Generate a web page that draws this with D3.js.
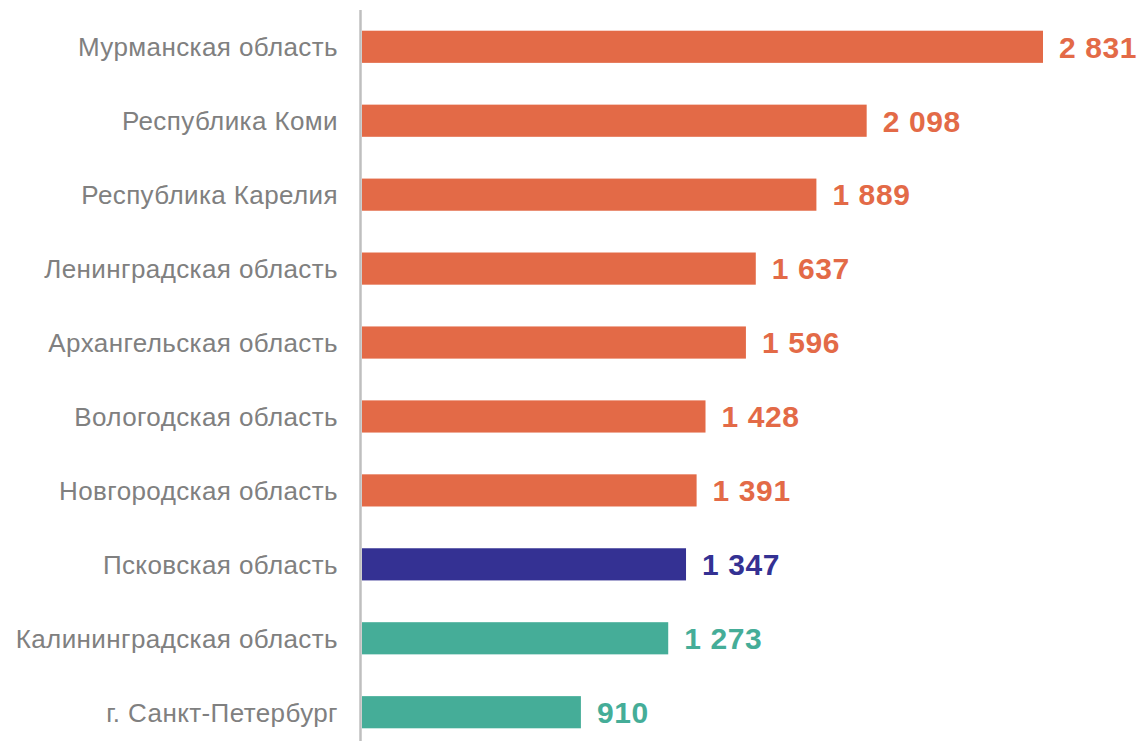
<!DOCTYPE html>
<meta charset="utf-8">
<style>
  body { margin: 0; background: #fff; }
  text { font-family: "Liberation Sans", Arial, sans-serif; }
</style>
<body>
<script src="https://cdn.jsdelivr.net/npm/d3@7"></script>
<script>
  var width = 1143;
  var height = 741;

  var regions = ["Мурманская область", "Республика Коми", "Республика Карелия",
    "Ленинградская область", "Архангельская область", "Вологодская область",
    "Новгородская область", "Псковская область", "Калининградская область",
    "г. Санкт-Петербург"];
  var values = [2831, 2098, 1889, 1637, 1596, 1428, 1391, 1347, 1273, 910];
  // group: 0 = above, 1 = Pskov, 2 = below
  var groups = [0, 0, 0, 0, 0, 0, 0, 1, 2, 2];
  var groupColors = ["#e36a47", "#343193", "#45ad98"];

  var svg = d3.select("body")
    .append("svg")
    .attr("width", width)
    .attr("height", height);

  var x = d3.scaleLinear()
    .domain([0, 2831])
    .range([362, 1043]);

  var y = d3.scaleBand()
    .domain(regions)
    .range([10, 749])
    .paddingInner(0.565)
    .paddingOuter(0.28);

  var fmt = function(v) { return d3.format(",")(v).replace(/,/g, " "); };

  var rows = regions.map(function(r, i) {
    return { name: r, value: values[i], color: groupColors[groups[i]] };
  });

  svg.selectAll("rect.bar")
    .data(rows)
    .enter()
    .append("rect")
    .attr("class", "bar")
    .attr("x", x(0))
    .attr("y", function(d) { return y(d.name); })
    .attr("width", function(d) { return x(d.value) - x(0); })
    .attr("height", y.bandwidth())
    .style("fill", function(d) { return d.color; });

  svg.selectAll("text.val")
    .data(rows)
    .enter()
    .append("text")
    .attr("class", "val")
    .attr("x", function(d) { return x(d.value) + 16; })
    .attr("y", function(d) { return y(d.name) + y.bandwidth() / 2; })
    .attr("dy", "0.36em")
    .style("font-size", "30px")
    .style("letter-spacing", "0.6px")
    .style("font-weight", "bold")
    .style("fill", function(d) { return d.color; })
    .text(function(d) { return fmt(d.value); });

  svg.selectAll("text.cat")
    .data(rows)
    .enter()
    .append("text")
    .attr("class", "cat")
    .attr("x", 338)
    .attr("y", function(d) { return y(d.name) + y.bandwidth() / 2; })
    .attr("dy", "0.36em")
    .attr("text-anchor", "end")
    .style("font-size", "26px")
    .style("letter-spacing", "0.4px")
    .style("fill", "#808080")
    .text(function(d) { return d.name; });

  svg.append("line")
    .attr("x1", 360.5).attr("x2", 360.5)
    .attr("y1", 10).attr("y2", height)
    .style("stroke", "#bfbfbf")
    .style("stroke-width", 2.5);
</script>
</body>
